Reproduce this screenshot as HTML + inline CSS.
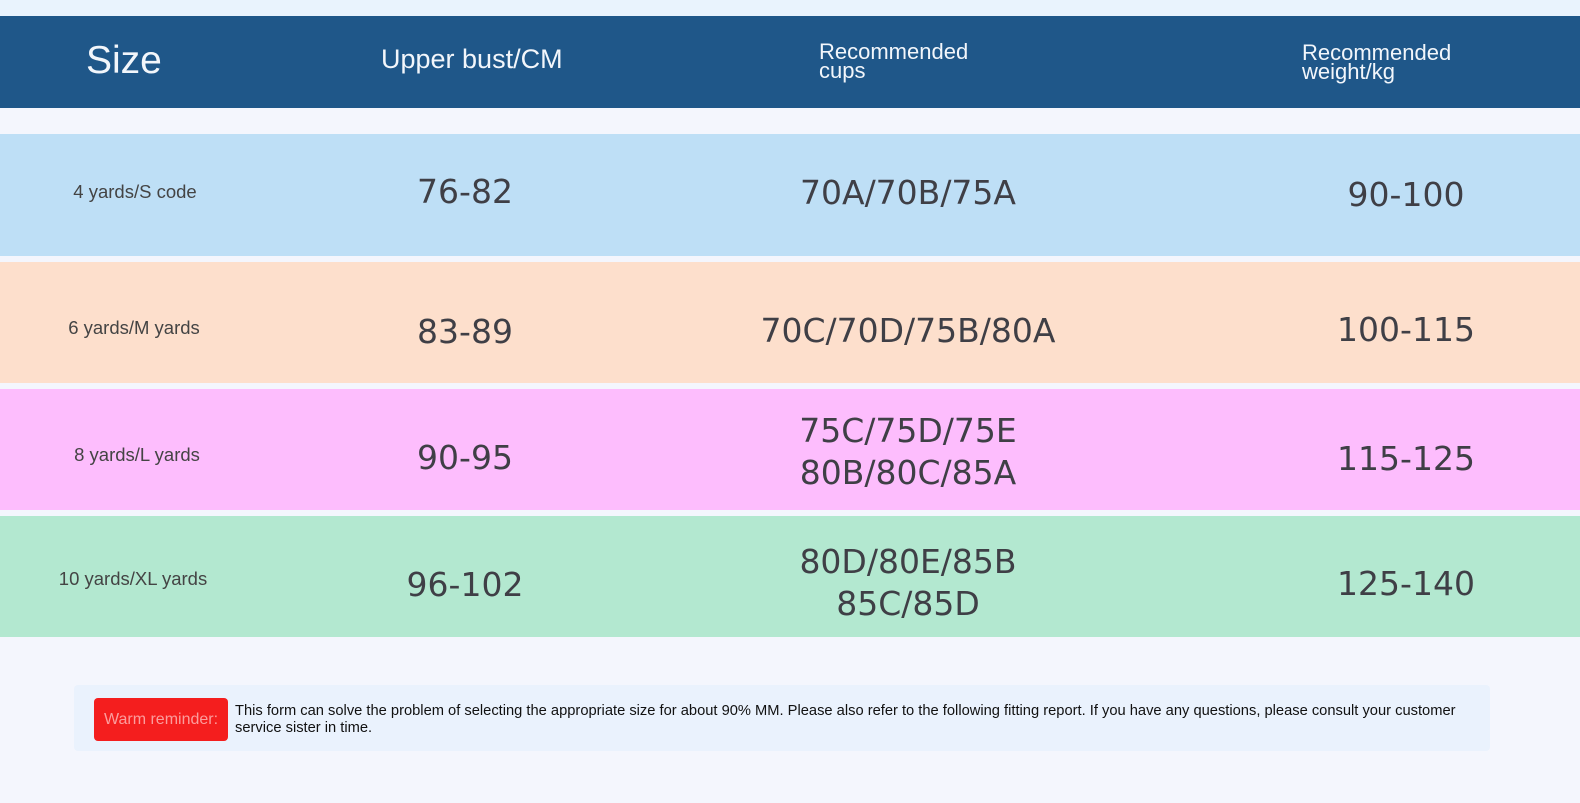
<!DOCTYPE html>
<html><head><meta charset="utf-8"><style>
*{margin:0;padding:0;box-sizing:border-box}
body{width:1580px;height:803px;background:#f4f6fd;position:relative;overflow:hidden;font-family:"Liberation Sans",sans-serif}
.a{position:absolute}
.c{position:absolute;transform:translate(-50%,-50%);white-space:nowrap;text-align:center}
.n{font-family:"DejaVu Sans",sans-serif;font-size:33px;color:#3f3f46;line-height:42px}
.s{font-size:18.5px;color:#444}
.h{color:#f2f6fb}
</style></head><body>
<div class="a" style="left:0;top:0;width:1580px;height:16px;background:#e9f3fd"></div>
<div class="a" style="left:0;top:16px;width:1580px;height:92px;background:#1f5789"></div>
<div class="a h" style="left:86px;top:39px;font-size:39px">Size</div>
<div class="a h" style="left:381px;top:44px;font-size:27px">Upper bust/CM</div>
<div class="a h" style="left:819px;top:42px;font-size:22px;line-height:19px">Recommended<br>cups</div>
<div class="a h" style="left:1302px;top:43px;font-size:22px;line-height:19px">Recommended<br>weight/kg</div>

<div class="a" style="left:0;top:134px;width:1580px;height:122px;background:#bedff6"></div>
<div class="a" style="left:0;top:262px;width:1580px;height:121px;background:#fddfcc"></div>
<div class="a" style="left:0;top:389px;width:1580px;height:121px;background:#fdbdfd"></div>
<div class="a" style="left:0;top:516px;width:1580px;height:121px;background:#b3e8d0"></div>

<div class="c s" style="left:135px;top:192px">4 yards/S code</div>
<div class="c n" style="left:465px;top:192px">76-82</div>
<div class="c n" style="left:908px;top:193px">70A/70B/75A</div>
<div class="c n" style="left:1406px;top:195px">90-100</div>

<div class="c s" style="left:134px;top:328px">6 yards/M yards</div>
<div class="c n" style="left:465px;top:332px">83-89</div>
<div class="c n" style="left:908px;top:331px">70C/70D/75B/80A</div>
<div class="c n" style="left:1406px;top:330px">100-115</div>

<div class="c s" style="left:137px;top:455px">8 yards/L yards</div>
<div class="c n" style="left:465px;top:458px">90-95</div>
<div class="c n" style="left:908px;top:452px">75C/75D/75E<br>80B/80C/85A</div>
<div class="c n" style="left:1406px;top:459px">115-125</div>

<div class="c s" style="left:133px;top:579px">10 yards/XL yards</div>
<div class="c n" style="left:465px;top:585px">96-102</div>
<div class="c n" style="left:908px;top:583px">80D/80E/85B<br>85C/85D</div>
<div class="c n" style="left:1406px;top:584px">125-140</div>

<div class="a" style="left:74px;top:685px;width:1416px;height:66px;background:#eaf2fd;border-radius:4px"></div>
<div class="a" style="left:94px;top:698px;width:134px;height:43px;background:#f41e1e;border-radius:4px;color:#fb9d9d;font-size:16px;line-height:43px;text-align:center">Warm reminder:</div>
<div class="a" style="left:235px;top:703px;width:1240px;font-size:14.7px;line-height:17px;color:#111">This form can solve the problem of selecting the appropriate size for about 90% MM. Please also refer to the following fitting report. If you have any questions, please consult your customer service sister in time.</div>
</body></html>
